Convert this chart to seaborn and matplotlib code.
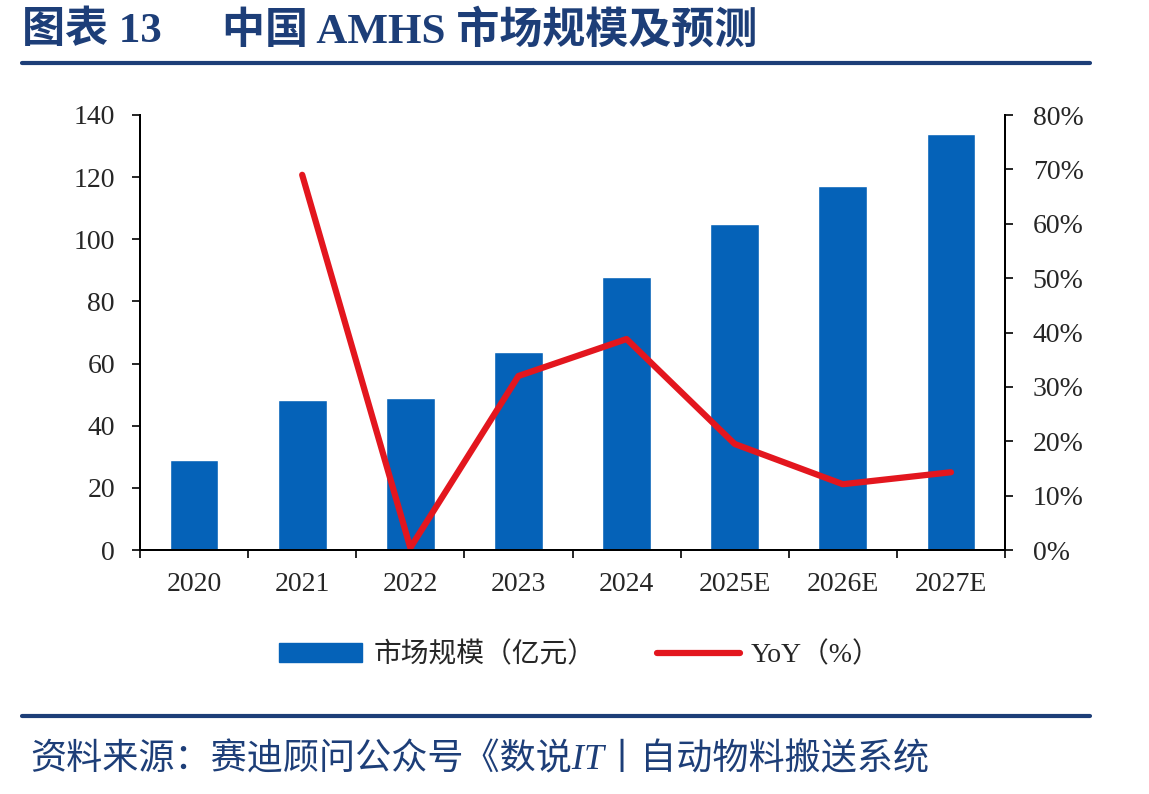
import numpy as np
import matplotlib
matplotlib.use('Agg')
from matplotlib import pyplot as plt
from matplotlib.lines import Line2D
from matplotlib.patches import Patch
from matplotlib.ticker import FuncFormatter, FixedLocator
import pandas as pd
import seaborn as sns

years = ['2020', '2021', '2022', '2023', '2024', '2025E', '2026E', '2027E']
market_size = [29.0, 48.3, 48.8, 63.6, 87.8, 104.8, 117.3, 133.8]
yoy_years = ['2021', '2022', '2023', '2024', '2025E', '2026E', '2027E']
yoy = [0.690, 0.004, 0.320, 0.388, 0.195, 0.121, 0.143]

bar_color = '#0562B8'
line_color = '#E3161E'
navy = '#1D3E78'
fonts = ['Liberation Serif', 'Noto Sans CJK SC', 'DejaVu Sans']

sns.set_style('white')
plt.rcParams['font.family'] = fonts
plt.rcParams['axes.unicode_minus'] = False

df = pd.DataFrame({'year': years, 'size': market_size})

fig = plt.figure(figsize=(11.49, 7.94), dpi=100)
ax = fig.add_axes([140/1149, 1-550/794, 865/1149, 435/794])

sns.barplot(data=df, x='year', y='size', color=bar_color, saturation=1,
            width=0.45, ax=ax)
ax.set_xlim(-0.5, len(years)-0.5)
ax.set_ylim(0, 140)
ax.set_yticks(np.arange(0, 141, 20))
ax.set_xlabel('')
ax.set_ylabel('')

ax2 = ax.twinx()
pos = [years.index(y) for y in yoy_years]
sns.lineplot(x=pos, y=yoy, color=line_color, lw=4.5, ax=ax2)
ax2.set_ylim(0, 0.8)
ax2.set_yticks(np.arange(0, 0.81, 0.1))
ax2.yaxis.set_major_formatter(FuncFormatter(lambda v, p: f'{v*100:.0f}%'))
ax2.set_xlim(-0.5, len(years)-0.5)

for a in (ax, ax2):
    for s in a.spines.values():
        s.set_color('black')
        s.set_linewidth(1.4)
    a.spines['top'].set_visible(False)
    a.grid(False)

ax.tick_params(axis='y', direction='out', length=6, width=1.4, pad=12,
               labelsize=20, left=True)
ax2.tick_params(axis='y', direction='out', length=6, width=1.4, pad=14,
                labelsize=20, right=True)
ax.tick_params(axis='x', which='major', length=0, pad=16, labelsize=20)
ax.xaxis.set_minor_locator(FixedLocator(np.arange(-0.5, len(years), 1.0)))
ax.tick_params(axis='x', which='minor', direction='out', length=6, width=1.4,
               bottom=True)

# legend
handles = [Patch(facecolor=bar_color, edgecolor=bar_color),
           Line2D([0], [0], color=line_color, lw=4.5)]
labels = ['市场规模（亿元）', 'YoY（%）']
fig.legend(handles, labels, loc='center', bbox_to_anchor=(580/1149, 1-655/794),
           ncol=2, frameon=False, fontsize=20, handlelength=3.0,
           handleheight=0.7, columnspacing=2.2, handletextpad=0.4)

# title and source
fig.text(22/1149, 1-31/794, '图表 13', fontsize=31, fontweight='bold',
         color=navy, va='center', ha='left')
fig.text(222/1149, 1-31/794, '中国 AMHS 市场规模及预测', fontsize=31,
         fontweight='bold', color=navy, va='center', ha='left')
fig.add_artist(Line2D([22/1149, 1090/1149], [1-63/794]*2, lw=3, color=navy))
fig.add_artist(Line2D([22/1149, 1090/1149], [1-716/794]*2, lw=3, color=navy))
fig.text(30/1149, 1-760/794, '资料来源：赛迪顾问公众号《数说IT丨自动物料搬送系统',
         fontsize=26, style='italic', color=navy, va='center', ha='left')

fig.savefig('out.png', dpi=100)
